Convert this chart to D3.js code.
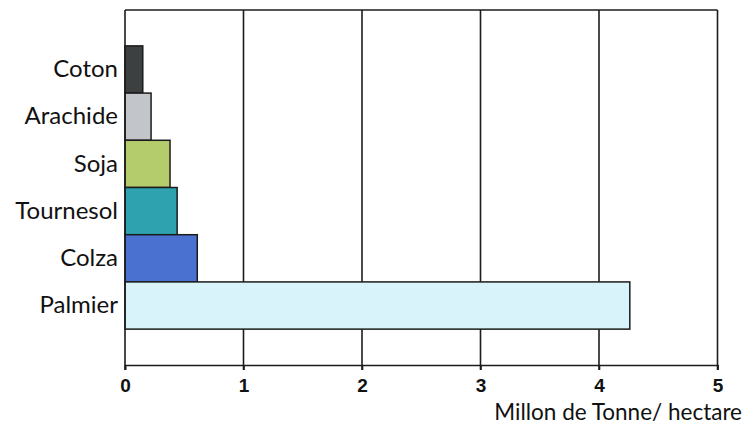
<!DOCTYPE html>
<html>
<head>
<meta charset="utf-8">
<script src="https://cdn.jsdelivr.net/npm/d3@7"></script>
<style>
  html, body { margin: 0; padding: 0; background: #ffffff; }
  svg { display: block; }
</style>
</head>
<body>
<div id="chart"></div>
<script>
// Oil crops and their yield (million tonnes per hectare)
const categories = ["Coton", "Arachide", "Soja", "Tournesol", "Colza", "Palmier"];
const values = [0.15, 0.22, 0.38, 0.44, 0.61, 4.26];
const barColors = ["#3d4040", "#c2c6ca", "#b5cc6c", "#2ea2ae", "#4a71cf", "#d8f3f9"];
const xTicks = [0, 1, 2, 3, 4, 5];
const xAxisTitle = "Millon de Tonne/ hectare";

const W = 745, H = 434;
const plot = { left: 125, right: 717.5, top: 10, bottom: 365 };

const svg = d3.select("#chart").append("svg")
  .attr("width", W).attr("height", H);

const x = d3.scaleLinear().domain([0, 5]).range([plot.left, plot.right]);
const y = d3.scaleBand().domain(categories)
  .range([plot.top, plot.bottom])
  .paddingInner(0)
  .paddingOuter(0.76);

const ink = "#1c1c1c";

// vertical gridlines (extend slightly below axis as tick marks)
svg.append("g").selectAll("line")
  .data(xTicks.slice(1))
  .join("line")
  .attr("x1", d => x(d)).attr("x2", d => x(d))
  .attr("y1", plot.top).attr("y2", plot.bottom + 5)
  .attr("stroke", ink).attr("stroke-width", 1.6);

// top border
svg.append("line")
  .attr("x1", x(0)).attr("x2", x(5))
  .attr("y1", plot.top).attr("y2", plot.top)
  .attr("stroke", ink).attr("stroke-width", 1.6);

// bars
svg.append("g").selectAll("rect")
  .data(categories)
  .join("rect")
  .attr("x", x(0))
  .attr("y", d => y(d))
  .attr("width", (d, i) => x(values[i]) - x(0))
  .attr("height", y.bandwidth())
  .attr("fill", (d, i) => barColors[i])
  .attr("stroke", ink).attr("stroke-width", 1.5);

// x axis
const xAxis = d3.axisBottom(x).tickValues(xTicks).tickSize(5).tickPadding(9).tickFormat(d3.format("d"));
const gx = svg.append("g")
  .attr("transform", `translate(0,${plot.bottom})`)
  .call(xAxis);
gx.select(".domain").attr("stroke", ink).attr("stroke-width", 1.6);
gx.selectAll(".tick line").attr("stroke", ink).attr("stroke-width", 1.6);
gx.selectAll(".tick text")
  .attr("fill", "#111")
  .style("font-family", "'Liberation Sans', Arial, sans-serif")
  .style("font-weight", "bold")
  .style("font-size", "19px");

// y axis (left line, category labels)
const yAxis = d3.axisLeft(y).tickSize(0).tickPadding(7);
const gy = svg.append("g")
  .attr("transform", `translate(${plot.left},0)`)
  .call(yAxis);
gy.select(".domain").attr("stroke", ink).attr("stroke-width", 1.6)
  .attr("d", `M0,${plot.top}V${plot.bottom + 5}`);
gy.selectAll(".tick text")
  .attr("fill", "#111")
  .style("font-family", "Lato, 'Open Sans', sans-serif")
  .style("font-size", "24px");

// x axis title
svg.append("text")
  .attr("x", 742)
  .attr("y", 420)
  .attr("text-anchor", "end")
  .attr("fill", "#111")
  .style("font-family", "Lato, 'Open Sans', sans-serif")
  .style("font-size", "22.5px")
  .text(xAxisTitle);
</script>
</body>
</html>
